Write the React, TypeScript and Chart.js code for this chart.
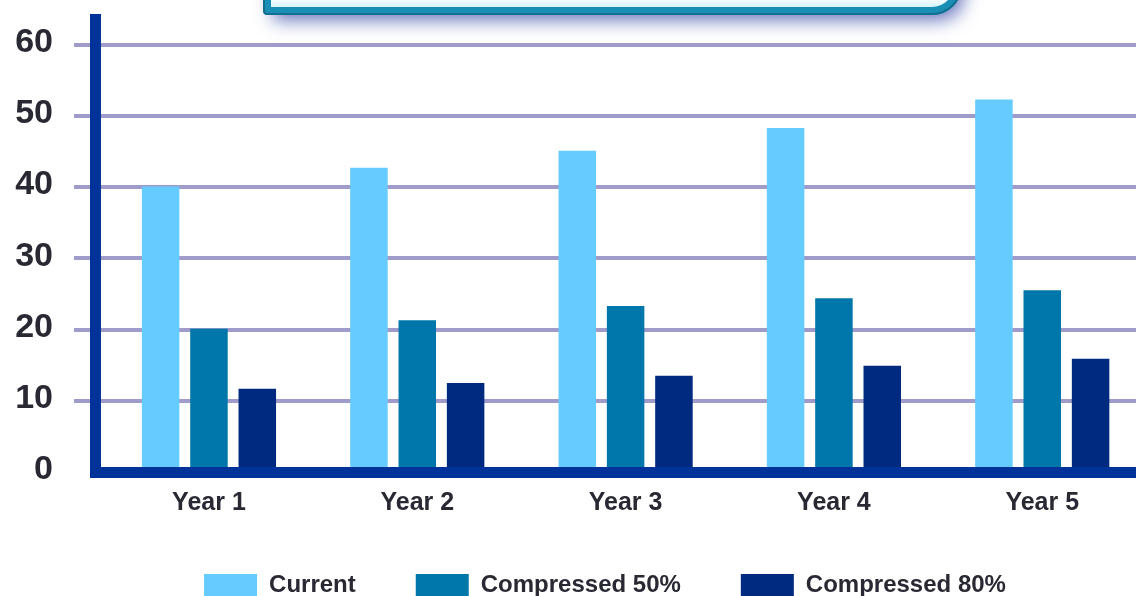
import React, { useEffect, useRef } from 'react';
import { Chart, registerables } from 'chart.js';

Chart.register(...registerables);

const categories = ['Year 1', 'Year 2', 'Year 3', 'Year 4', 'Year 5'];
const seriesNames = ['Current', 'Compressed 50%', 'Compressed 80%'];
const currentValues = [40.1, 42.7, 45.1, 48.3, 52.3];
const compressed50Values = [20.1, 21.3, 23.3, 24.4, 25.5];
const compressed80Values = [11.7, 12.5, 13.5, 14.9, 15.9];
const yTicks = [0, 10, 20, 30, 40, 50, 60];
const yMax = 63.6;
const seriesColors = ['#66ccff', '#0077aa', '#002a7f'];

const FONT = "'Liberation Sans', Arial, Helvetica, sans-serif";
const TEXT = '#292933';
const AXIS = '#003399';
const GRID = '#9f9ccc';
const LEGEND_SHIFT = 37;

const calloutPlugin = {
  id: 'callout',
  afterLayout(chart: any) {
    if (chart.legend) {
      chart.legend.left += LEGEND_SHIFT;
      chart.legend.right += LEGEND_SHIFT;
    }
  },
  beforeDraw(chart: any) {
    const ctx = chart.ctx as CanvasRenderingContext2D;
    ctx.save();
    const x0 = 267, x1 = 958, y0 = -60, y1 = 11;
    const path = () => {
      ctx.beginPath();
      (ctx as any).roundRect(x0, y0, x1 - x0, y1 - y0, [0, 0, 26, 2]);
    };
    ctx.shadowColor = 'rgba(50, 70, 165, 0.75)';
    ctx.shadowBlur = 18;
    ctx.shadowOffsetX = 6;
    ctx.shadowOffsetY = 9;
    path();
    ctx.fillStyle = '#ffffff';
    ctx.fill();
    ctx.shadowColor = 'rgba(0,0,0,0)';
    const g = ctx.createLinearGradient(0, y1 - 14, 0, y1);
    g.addColorStop(0, '#ffffff');
    g.addColorStop(1, '#c6f3ff');
    ctx.fillStyle = g;
    path();
    ctx.fill();
    ctx.lineWidth = 8;
    ctx.strokeStyle = '#1a8fb6';
    path();
    ctx.stroke();
    ctx.lineWidth = 2;
    ctx.strokeStyle = '#136f8f';
    ctx.beginPath();
    (ctx as any).roundRect(x0 - 3, y0, x1 - x0 + 6, y1 - y0 + 3, [0, 0, 29, 3]);
    ctx.stroke();
    ctx.restore();
  },
};

export default function App() {
  const ref = useRef<HTMLCanvasElement>(null);

  useEffect(() => {
    const series = [currentValues, compressed50Values, compressed80Values];
    const chart = new Chart(ref.current as HTMLCanvasElement, {
      type: 'bar',
      data: {
        datasets: series.map((vals, s) => ({
          label: seriesNames[s],
          data: vals.map((v, i) => ({ x: i, y: v })),
          backgroundColor: seriesColors[s],
          borderWidth: 0,
          categoryPercentage: 0.696,
          barPercentage: 0.776,
        })),
      },
      options: {
        animation: false,
        responsive: true,
        maintainAspectRatio: false,
        layout: { padding: { left: 0, right: 0, top: 19, bottom: -11 } },
        plugins: {
          tooltip: { enabled: false },
          legend: {
            position: 'bottom',
            labels: {
              boxWidth: 53,
              boxHeight: 22,
              padding: 60,
              color: TEXT,
              font: { family: FONT, size: 24, weight: 'bold' },
            },
          },
        },
        scales: {
          x: {
            type: 'linear',
            offset: false,
            min: -0.547,
            max: 4.45,
            grid: { display: false },
            border: { display: true, color: AXIS, width: 11, z: 1 },
            ticks: {
              color: TEXT,
              font: { family: FONT, size: 25, weight: 'bold' },
              padding: 8,
              maxRotation: 0,
              autoSkip: false,
              callback: (v: any) => categories[v] ?? '',
            },
            afterBuildTicks: (s: any) => {
              s.ticks = categories.map((_, i) => ({ value: i }));
            },
            afterFit: (s: any) => {
              s.height = 41;
              s.paddingLeft = 0;
              s.paddingRight = 0;
            },
          },
          y: {
            min: 0,
            max: yMax,
            grid: {
              color: (c: any) => (c.tick && c.tick.value === 0 ? 'rgba(0,0,0,0)' : GRID),
              lineWidth: 4,
              tickLength: 21,
            },
            border: { display: true, color: AXIS, width: 11 },
            ticks: {
              color: TEXT,
              font: { family: FONT, size: 34, weight: 'bold' },
              padding: 21,
              labelOffset: -2,
            },
            afterBuildTicks: (s: any) => {
              s.ticks = yTicks.map((v) => ({ value: v }));
            },
            afterFit: (s: any) => {
              s.width = 95;
              s.paddingTop = 0;
              s.paddingBottom = 0;
            },
          },
        },
      } as any,
      plugins: [calloutPlugin],
    });
    return () => chart.destroy();
  }, []);

  return (
    <div
      style={{
        position: 'fixed',
        left: 0,
        top: 0,
        width: 1136,
        height: 596,
        overflow: 'hidden',
        background: '#ffffff',
      }}
    >
      <canvas ref={ref} />
    </div>
  );
}
